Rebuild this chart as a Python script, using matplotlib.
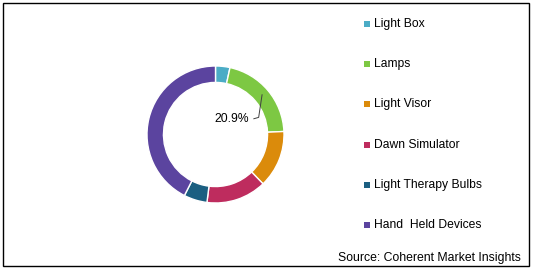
import matplotlib
matplotlib.use("Agg")
from matplotlib import pyplot as plt
from matplotlib.patches import Rectangle

plt.rcParams['font.family'] = ['Liberation Sans', 'DejaVu Sans']

categories = ["Light Box", "Lamps", "Light Visor", "Dawn Simulator",
              "Light Therapy Bulbs", "Hand  Held Devices"]
shares = [3.4, 20.9, 13.5, 14.2, 5.5, 42.5]
colors = ["#4BACC6", "#7DC843", "#DB8B0B", "#BE2C5E", "#1B5F81", "#5B449F"]
label_text = "20.9%"
source_text = "Source: Coherent Market Insights"

W, H = 534, 270
fig = plt.figure(figsize=(W / 100, H / 100), dpi=100)

# 饼图区域 (像素 -> 比例)
cx, cy, r = 215.5, 134.5, 68.5
ax = fig.add_axes([(cx - r) / W, (H - cy - r) / H, 2 * r / W, 2 * r / H])
wedges, _ = ax.pie(shares, colors=colors, startangle=90, counterclock=False,
                   radius=1.0, wedgeprops=dict(width=0.24, edgecolor="white", linewidth=1))
ax.set_xlim(-1, 1)
ax.set_ylim(-1, 1)
ax.axis("off")

# 20.9% 标签和引线
ax.text(0.23, 0.23, label_text, fontsize=8.7, ha="center", va="center")
ax.plot([0.56, 0.63, 0.68], [0.23, 0.25, 0.58], color="#404040", linewidth=0.7)

# 图例
x_sq, x_txt = 364, 374
y0, dy = 24, 40.2
for i, (name, c) in enumerate(zip(categories, colors)):
    y = y0 + i * dy
    fig.patches.append(Rectangle(((x_sq) / W, (H - y - 3) / H), 6 / W, 6 / H,
                                 transform=fig.transFigure, facecolor=c, edgecolor="none"))
    fig.text(x_txt / W, (H - y) / H, name, fontsize=8.7, va="center", ha="left")

fig.text(521 / W, (H - 258) / H, source_text, fontsize=8.8, va="center", ha="right")

# 外框
fig.patches.append(Rectangle((3 / W, 4 / H), 526 / W, 263 / H, transform=fig.transFigure,
                             facecolor="none", edgecolor="black", linewidth=1))

fig.savefig("out.png", dpi=100)
